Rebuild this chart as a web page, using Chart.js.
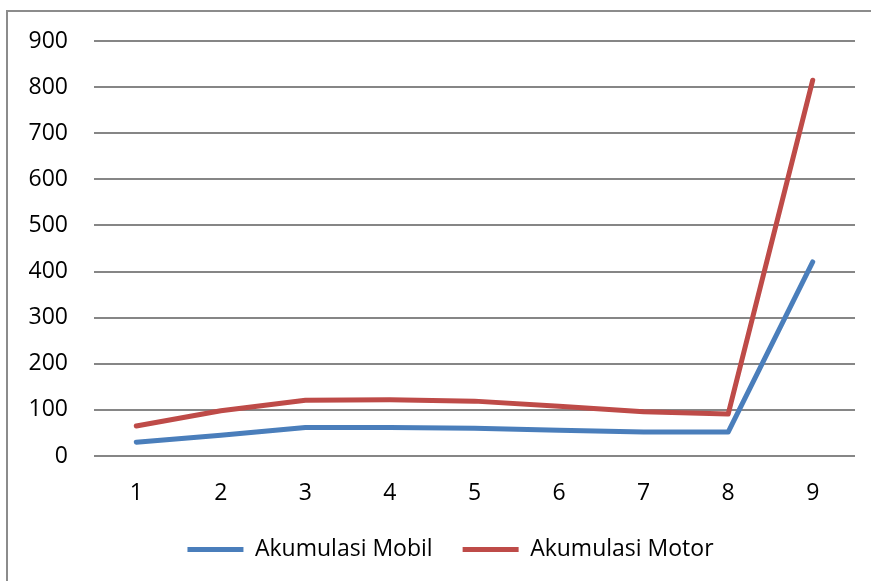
<!DOCTYPE html>
<html>
<head>
<meta charset="utf-8">
<script src="https://cdn.jsdelivr.net/npm/chart.js@4"></script>
<style>
	html, body { margin: 0; padding: 0; background: #fff; overflow: hidden; }
	#wrap { position: relative; width: 871px; height: 581px; }
	#frame {
		position: absolute; left: 6px; top: 10px; width: 900px; height: 600px;
		border: 2px solid #8c8c8c; box-sizing: border-box;
	}
	canvas { position: absolute; left: 0; top: 0; }
</style>
</head>
<body>
<div id="wrap">
	<div id="frame"></div>
	<canvas id="chart" width="871" height="581"></canvas>
</div>
<script>
const categories = ['1', '2', '3', '4', '5', '6', '7', '8', '9'];
const mobil = [30, 45, 62, 62, 60, 56, 52, 52, 421];
const motor = [65, 98, 121, 122, 119, 108, 96, 91, 815];
const yTicks = [0, 100, 200, 300, 400, 500, 600, 700, 800, 900];

const FONT = '"Open Sans", Lato, sans-serif';
const FONT_SIZE = 23;

// legend sits a bit right of the canvas centre, so nudge it after layout
const legendShift = {
	id: 'legendShift',
	afterLayout(chart) {
		chart.legend.left += 23;
		chart.legend.right += 23;
	}
};

new Chart(document.getElementById('chart'), {
	type: 'line',
	data: {
		labels: categories,
		datasets: [{
			label: 'Akumulasi Mobil',
			data: mobil,
			borderColor: '#4a7ebb',
			backgroundColor: '#4a7ebb',
			borderWidth: 5,
			borderCapStyle: 'round',
			borderJoinStyle: 'round',
			pointRadius: 0,
			tension: 0
		},{
			label: 'Akumulasi Motor',
			data: motor,
			borderColor: '#be4b48',
			backgroundColor: '#be4b48',
			borderWidth: 5,
			borderCapStyle: 'round',
			borderJoinStyle: 'round',
			pointRadius: 0,
			tension: 0
		}]
	},
	options: {
		responsive: false,
		animation: false,
		layout: { padding: { top: 41, right: 16, bottom: 10, left: 0 } },
		scales: {
			x: {
				offset: true,
				grid: { display: false, drawTicks: false },
				border: { display: false },
				ticks: { color: '#000', font: { family: FONT, size: FONT_SIZE }, padding: 24 },
				afterFit: s => { s.height = 52; }
			},
			y: {
				min: 0,
				max: 900,
				afterBuildTicks: s => { s.ticks = yTicks.map(v => ({ value: v })); },
				grid: { color: '#868686', lineWidth: 2, drawTicks: false },
				border: { display: false },
				ticks: { color: '#000', font: { family: FONT, size: FONT_SIZE }, padding: 26 },
				afterFit: s => { s.width = 94; }
			}
		},
		plugins: {
			tooltip: { enabled: false },
			legend: {
				position: 'bottom',
				labels: {
					color: '#000',
					font: { family: FONT, size: FONT_SIZE },
					usePointStyle: true,
					pointStyle: 'line',
					pointStyleWidth: 56,
					boxWidth: 56,
					boxHeight: FONT_SIZE,
					padding: 30
				}
			}
		}
	},
	plugins: [legendShift]
});
</script>
</body>
</html>
